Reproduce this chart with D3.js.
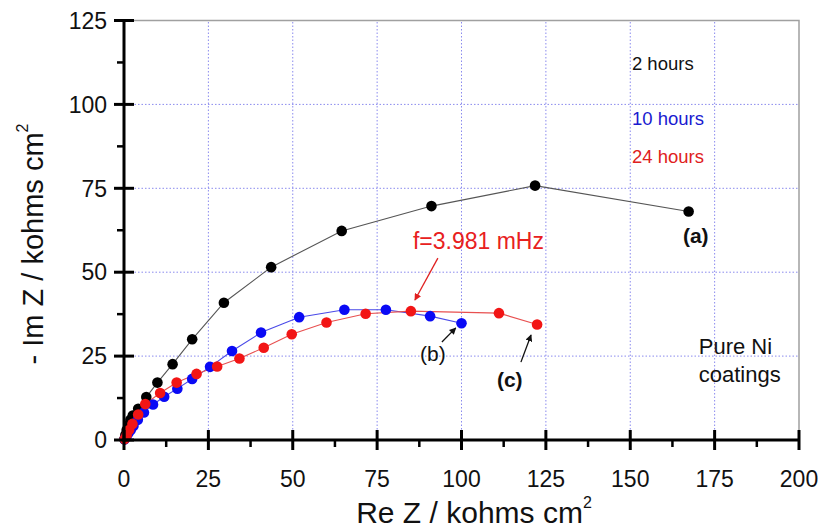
<!DOCTYPE html>
<html>
<head>
<meta charset="utf-8">
<script src="https://cdn.jsdelivr.net/npm/d3@7"></script>
<style>
  body { margin: 0; background: #fff; }
  svg { display: block; font-family: "Liberation Sans", Arial, sans-serif; }
</style>
</head>
<body>
<div id="chart"></div>
<script>
// Nyquist data, [Re Z, -Im Z] in kohms cm2
const hours2 = [
  [0.1, 0.2], [0.4, 1.5], [0.8, 3.0], [1.3, 4.5], [1.9, 6.0], [2.6, 7.3],
  [4.2, 9.3], [6.6, 12.8], [9.9, 17.1], [14.4, 22.6], [20.2, 30.0],
  [29.6, 40.9], [43.6, 51.5], [64.5, 62.3], [91.1, 69.7], [121.8, 75.8],
  [167.3, 68.1]
];
const hours10 = [
  [0.2, 0.2], [0.7, 1.0], [1.3, 2.0], [2.0, 3.0], [2.8, 4.2], [4.1, 6.0],
  [5.9, 8.2], [8.6, 10.6], [11.9, 12.9], [15.8, 15.3], [20.2, 18.2],
  [25.5, 21.8], [32.0, 26.5], [40.6, 32.0], [51.9, 36.6], [65.3, 38.8],
  [77.6, 38.8], [90.7, 36.9], [100.0, 34.8]
];
const hours24 = [
  [0.2, 0.3], [0.8, 1.5], [1.5, 3.0], [2.5, 4.8], [4.2, 7.6], [6.3, 10.7],
  [10.7, 14.0], [15.6, 17.1], [21.5, 19.7], [27.6, 21.9], [34.2, 24.3],
  [41.4, 27.5], [49.7, 31.5], [60.0, 35.0], [71.6, 37.6], [85.0, 38.4],
  [111.1, 37.8], [122.4, 34.4]
];
const xTicks = [0, 25, 50, 75, 100, 125, 150, 175, 200];
const yTicks = [0, 25, 50, 75, 100, 125];

const width = 821, height = 532;
const margin = { top: 20.5, right: 22, bottom: 92, left: 124 };

const svg = d3.select('#chart').append('svg')
  .attr('width', width)
  .attr('height', height);

const x = d3.scaleLinear().domain([0, 200]).range([margin.left, width - margin.right]);
const y = d3.scaleLinear().domain([0, 125]).range([height - margin.bottom, margin.top]);

// grid
const grid = svg.append('g')
  .attr('stroke', '#8a8aee')
  .attr('stroke-width', 1)
  .attr('stroke-dasharray', '1.5,2');
grid.selectAll('.vg').data(xTicks.slice(1, -1)).enter().append('line')
  .attr('x1', d => x(d)).attr('x2', d => x(d))
  .attr('y1', y(0)).attr('y2', y(125));
grid.selectAll('.hg').data(yTicks.slice(1, -1)).enter().append('line')
  .attr('x1', x(0)).attr('x2', x(200))
  .attr('y1', d => y(d)).attr('y2', d => y(d));

// top / right frame
svg.append('path')
  .attr('d', `M${x(0)},${y(125)}H${x(200)}V${y(0)}`)
  .attr('fill', 'none')
  .attr('stroke', '#a0a0a0')
  .attr('stroke-width', 1.5);

// series
const series = [
  { data: hours2, fill: '#000', line: '#555' },
  { data: hours10, fill: '#0a0af5', line: '#4a4ae8' },
  { data: hours24, fill: '#f21515', line: '#e85050' }
];
const line = d3.line().x(d => x(d[0])).y(d => y(d[1]));
series.forEach(s => {
  svg.append('path')
    .datum(s.data)
    .attr('fill', 'none')
    .attr('stroke', s.line)
    .attr('stroke-width', 1.1)
    .attr('d', line);
});
series.forEach(s => {
  svg.append('g').selectAll('circle')
    .data(s.data).enter().append('circle')
    .attr('cx', d => x(d[0]))
    .attr('cy', d => y(d[1]))
    .attr('r', 5.3)
    .attr('fill', s.fill);
});

// axes
const xAxis = svg.append('g').attr('transform', `translate(0,${y(0)})`);
xAxis.append('line').attr('x1', x(0) - 1.5).attr('x2', x(200)).attr('stroke', '#000').attr('stroke-width', 3);
xAxis.selectAll('.maj').data(xTicks).enter().append('line')
  .attr('x1', d => x(d)).attr('x2', d => x(d))
  .attr('y1', -10).attr('y2', 10)
  .attr('stroke', '#000').attr('stroke-width', 3);
xAxis.selectAll('.min').data(d3.range(12.5, 200, 25)).enter().append('line')
  .attr('x1', d => x(d)).attr('x2', d => x(d))
  .attr('y1', 0).attr('y2', 7)
  .attr('stroke', '#000').attr('stroke-width', 2.5);
xAxis.selectAll('text').data(xTicks).enter().append('text')
  .attr('x', d => x(d))
  .attr('y', 47)
  .attr('text-anchor', 'middle')
  .style('font-size', '23px')
  .attr('fill', '#111')
  .text(d => d);

const yAxis = svg.append('g').attr('transform', `translate(${x(0)},0)`);
yAxis.append('line').attr('y1', y(0) + 1.5).attr('y2', y(125)).attr('stroke', '#000').attr('stroke-width', 3);
yAxis.selectAll('.maj').data(yTicks).enter().append('line')
  .attr('y1', d => y(d)).attr('y2', d => y(d))
  .attr('x1', -10).attr('x2', 10)
  .attr('stroke', '#000').attr('stroke-width', 3);
yAxis.selectAll('.min').data(d3.range(12.5, 125, 25)).enter().append('line')
  .attr('y1', d => y(d)).attr('y2', d => y(d))
  .attr('x1', -7).attr('x2', 0)
  .attr('stroke', '#000').attr('stroke-width', 2.5);
yAxis.selectAll('text').data(yTicks).enter().append('text')
  .attr('x', -17)
  .attr('y', d => y(d))
  .attr('dy', '0.36em')
  .attr('text-anchor', 'end')
  .style('font-size', '23px')
  .attr('fill', '#111')
  .text(d => d);

// axis titles
const xTitle = svg.append('text')
  .attr('x', 474)
  .attr('y', 523)
  .attr('text-anchor', 'middle')
  .style('font-size', '30px')
  .attr('fill', '#111');
xTitle.append('tspan').text('Re Z / kohms cm');
xTitle.append('tspan').attr('dy', -15).style('font-size', '16px').text('2');

const yTitle = svg.append('text')
  .attr('transform', 'translate(43,244) rotate(-90)')
  .attr('text-anchor', 'middle')
  .style('font-size', '29px')
  .attr('fill', '#111');
yTitle.append('tspan').text('- Im Z / kohms cm');
yTitle.append('tspan').attr('dy', -15).style('font-size', '16px').text('2');

// legend-like labels
const labels = [
  { text: '2 hours', x: 150.5, y: 110.3, color: '#111', size: 18.5, weight: 'normal' },
  { text: '10 hours', x: 150.5, y: 94.0, color: '#1a1ad0', size: 18.5, weight: 'normal' },
  { text: '24 hours', x: 150.5, y: 82.6, color: '#e02020', size: 18.5, weight: 'normal' },
  { text: '(a)', x: 165.6, y: 58.7, color: '#111', size: 21, weight: 'bold' },
  { text: '(b)', x: 87.7, y: 23.6, color: '#111', size: 21, weight: 'normal' },
  { text: '(c)', x: 110.5, y: 15.7, color: '#111', size: 21, weight: 'bold' },
  { text: 'f=3.981 mHz', x: 85.6, y: 56.9, color: '#e82020', size: 23, weight: 'normal' },
  { text: 'Pure Ni', x: 170.3, y: 25.6, color: '#111', size: 22, weight: 'normal' },
  { text: 'coatings', x: 170.3, y: 17.3, color: '#111', size: 22, weight: 'normal' }
];
svg.append('g').selectAll('text').data(labels).enter().append('text')
  .attr('x', d => x(d.x))
  .attr('y', d => y(d.y))
  .attr('fill', d => d.color)
  .style('font-size', d => d.size + 'px')
  .style('font-weight', d => d.weight)
  .text(d => d.text);

// arrows
const defs = svg.append('defs');
[['ah-red', '#e02020'], ['ah-black', '#111']].forEach(([id, c]) => {
  defs.append('marker')
    .attr('id', id)
    .attr('viewBox', '0 0 10 10')
    .attr('refX', 9).attr('refY', 5)
    .attr('markerWidth', 7).attr('markerHeight', 7)
    .attr('markerUnits', 'userSpaceOnUse')
    .attr('orient', 'auto')
    .append('path').attr('d', 'M0,0L10,5L0,10Z').attr('fill', c);
});
const arrows = [
  { from: [93.0, 54.2], to: [86.2, 41.7], color: '#e02020', head: 'ah-red' },
  { from: [94.2, 29.2], to: [98.3, 33.4], color: '#111', head: 'ah-black' },
  { from: [117.6, 23.2], to: [120.6, 31.3], color: '#111', head: 'ah-black' }
];
svg.append('g').selectAll('line').data(arrows).enter().append('line')
  .attr('x1', d => x(d.from[0])).attr('y1', d => y(d.from[1]))
  .attr('x2', d => x(d.to[0])).attr('y2', d => y(d.to[1]))
  .attr('stroke', d => d.color)
  .attr('stroke-width', 1.3)
  .attr('marker-end', d => `url(#${d.head})`);
</script>
</body>
</html>
